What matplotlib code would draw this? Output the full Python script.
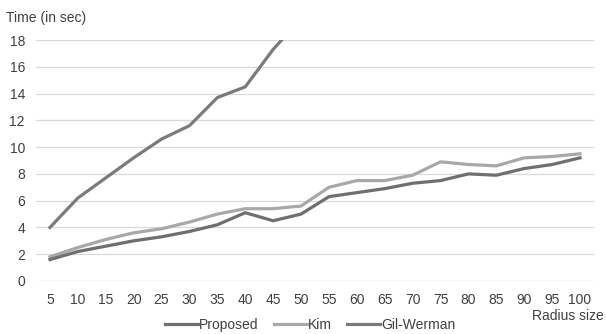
"""
Timing comparison: Proposed vs Kim vs Gil-Werman over radius size.
"""

import numpy as np
import matplotlib
matplotlib.use("Agg")
import matplotlib.pyplot as plt

plt.rcParams["font.family"] = ["Liberation Sans", "DejaVu Sans"]

radius      = [5, 10, 15, 20, 25, 30, 35, 40, 45, 50, 55, 60, 65, 70, 75, 80, 85, 90, 95, 100]
proposed    = [1.6, 2.2, 2.6, 3.0, 3.3, 3.7, 4.2, 5.1, 4.5, 5.0, 6.3, 6.6, 6.9, 7.3, 7.5, 8.0, 7.9, 8.4, 8.7, 9.2]
kim         = [1.8, 2.5, 3.1, 3.6, 3.9, 4.4, 5.0, 5.4, 5.4, 5.6, 7.0, 7.5, 7.5, 7.9, 8.9, 8.7, 8.6, 9.2, 9.3, 9.5]
gil_werman  = [4.0, 6.2, 7.7, 9.2, 10.6, 11.6, 13.7, 14.5, 17.3, 19.6]

FS  = 10
TXT = "#404040"

fig = plt.figure(figsize=(6.06, 3.34), dpi=100)
ax  = fig.add_axes([36 / 606, 1 - 281 / 334, (594 - 36) / 606, (281 - 40) / 334])

x = np.arange(len(radius))
ax.plot(x, proposed, color="#6f6f6f", linewidth=2.3, label="Proposed", zorder=3)
ax.plot(x, kim, color="#a8a8a8", linewidth=2.3, label="Kim", zorder=2)
ax.plot(x[:len(gil_werman)], gil_werman, color="#7b7b7b", linewidth=2.3,
        label="Gil-Werman", zorder=2)

ax.set_xlim(-0.5, len(radius) - 0.5)
ax.set_ylim(0, 18)
ax.set_yticks(range(0, 19, 2))
ax.set_xticks(x)
ax.set_xticklabels([str(r) for r in radius])
ax.grid(axis="y", color="#d9d9d9", linewidth=0.9)
ax.set_axisbelow(True)
for s in ax.spines.values():
    s.set_visible(False)
ax.tick_params(length=0, labelsize=FS, colors=TXT)
ax.tick_params(axis="x", pad=9)
ax.tick_params(axis="y", pad=8)

fig.text(6 / 606, 1 - 18 / 334, "Time (in sec)", fontsize=FS, color=TXT, va="center")
fig.text(604 / 606, 1 - 316 / 334, "Radius size", fontsize=FS, color=TXT,
         ha="right", va="center")

fig.legend(loc="center", bbox_to_anchor=(310 / 606, 1 - 325 / 334), ncol=3, frameon=False,
           fontsize=FS, handlelength=2.4, handletextpad=0.05, columnspacing=1.1,
           labelcolor=TXT)

fig.savefig("out.png", dpi=100)
